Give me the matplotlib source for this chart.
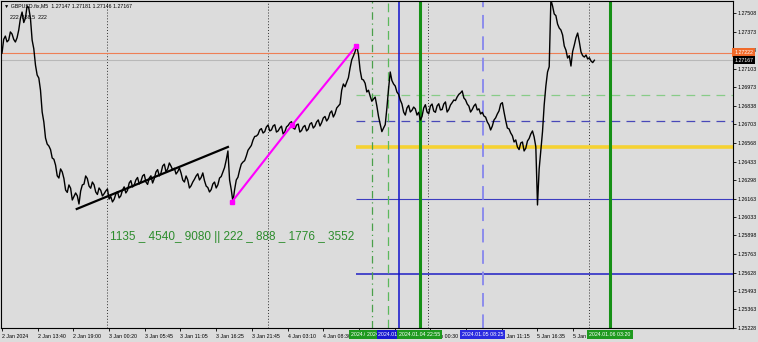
import matplotlib
matplotlib.use("Agg")
import matplotlib.pyplot as plt
import matplotlib.transforms as mtransforms

# ---------------- data ----------------
bar_step = 3  # M5 bars between consecutive close samples
close_prices = [
    1.27219, 1.27318, 1.27342, 1.27300, 1.27313, 1.27372, 1.27357, 1.27318, 1.27299, 1.27330,
    1.27386, 1.27470, 1.27516, 1.27440, 1.27473, 1.27560, 1.27545, 1.27470, 1.27313, 1.27250,
    1.27132, 1.27060, 1.27038, 1.26950, 1.26792, 1.26720, 1.26604, 1.26560, 1.26546, 1.26520,
    1.26459, 1.26450, 1.26408, 1.26330, 1.26314, 1.26380, 1.26358, 1.26310, 1.26227, 1.26210,
    1.26264, 1.26240, 1.26155, 1.26180, 1.26206, 1.26185, 1.26126, 1.26220, 1.26264, 1.26270,
    1.26329, 1.26310, 1.26256, 1.26240, 1.26285, 1.26265, 1.26213, 1.26195, 1.26242, 1.26225,
    1.26184, 1.26200, 1.26220, 1.26235, 1.26162, 1.26180, 1.26141, 1.26160, 1.26198, 1.26215,
    1.26170, 1.26185, 1.26227, 1.26250, 1.26206, 1.26225, 1.26278, 1.26295, 1.26249, 1.26262,
    1.26300, 1.26318, 1.26271, 1.26290, 1.26329, 1.26340, 1.26285, 1.26268, 1.26314, 1.26330,
    1.26278, 1.26310, 1.26358, 1.26375, 1.26329, 1.26350, 1.26401, 1.26415, 1.26358, 1.26380,
    1.26423, 1.26400, 1.26372, 1.26385, 1.26343, 1.26360, 1.26387, 1.26350, 1.26300, 1.26285,
    1.26329, 1.26300, 1.26242, 1.26258, 1.26285, 1.26305, 1.26329, 1.26345, 1.26300, 1.26318,
    1.26351, 1.26295, 1.26256, 1.26245, 1.26213, 1.26230, 1.26271, 1.26285, 1.26242, 1.26265,
    1.26314, 1.26325, 1.26358, 1.26390, 1.26445, 1.26510, 1.26300, 1.26230, 1.26141, 1.26230,
    1.26300, 1.26320, 1.26372, 1.26415, 1.26430, 1.26440, 1.26474, 1.26515, 1.26532, 1.26550,
    1.26589, 1.26615, 1.26618, 1.26630, 1.26662, 1.26672, 1.26640, 1.26650, 1.26684, 1.26698,
    1.26655, 1.26662, 1.26691, 1.26700, 1.26647, 1.26655, 1.26676, 1.26690, 1.26633, 1.26648,
    1.26684, 1.26695, 1.26713, 1.26722, 1.26676, 1.26668, 1.26698, 1.26705, 1.26647, 1.26658,
    1.26684, 1.26695, 1.26655, 1.26668, 1.26705, 1.26715, 1.26676, 1.26690, 1.26720, 1.26735,
    1.26691, 1.26715, 1.26749, 1.26760, 1.26727, 1.26745, 1.26785, 1.26800, 1.26756, 1.26780,
    1.26821, 1.26835, 1.26850, 1.26950, 1.26995, 1.26975, 1.27009, 1.27040, 1.27111, 1.27170,
    1.27198, 1.27230, 1.27270, 1.27210, 1.27096, 1.27030, 1.27024, 1.27000, 1.26937, 1.26950,
    1.26908, 1.26870, 1.26886, 1.26900, 1.26836, 1.26760, 1.26705, 1.26650, 1.26676, 1.26700,
    1.26821, 1.26960, 1.27082, 1.27020, 1.26995, 1.26980, 1.26937, 1.26920, 1.26879, 1.26850,
    1.26792, 1.26770, 1.26821, 1.26840, 1.26792, 1.26805, 1.26828, 1.26815, 1.26770, 1.26790,
    1.26734, 1.26760, 1.26821, 1.26845, 1.26792, 1.26780, 1.26836, 1.26850, 1.26799, 1.26790,
    1.26836, 1.26852, 1.26807, 1.26810, 1.26850, 1.26865, 1.26792, 1.26810, 1.26843, 1.26860,
    1.26879, 1.26875, 1.26901, 1.26920, 1.26930, 1.26945, 1.26894, 1.26880, 1.26850, 1.26835,
    1.26792, 1.26810, 1.26836, 1.26850, 1.26807, 1.26815, 1.26778, 1.26790, 1.26763, 1.26755,
    1.26720, 1.26700, 1.26662, 1.26690, 1.26734, 1.26750, 1.26778, 1.26800, 1.26850, 1.26860,
    1.26792, 1.26730, 1.26676, 1.26670, 1.26640, 1.26620, 1.26575, 1.26590, 1.26539, 1.26520,
    1.26568, 1.26575, 1.26510, 1.26530, 1.26582, 1.26600, 1.26633, 1.26655, 1.26611, 1.26540,
    1.26119, 1.26380, 1.26517, 1.26650, 1.26843, 1.26980, 1.27082, 1.27120, 1.27605, 1.27560,
    1.27502, 1.27490, 1.27429, 1.27400, 1.27386, 1.27350, 1.27270, 1.27240, 1.27183, 1.27200,
    1.27125, 1.27230, 1.27277, 1.27330, 1.27364, 1.27300, 1.27227, 1.27200, 1.27190, 1.27205,
    1.27176, 1.27185, 1.27161, 1.27150, 1.27167,
]

time_tick_bars = [0, 64, 128, 192, 256, 320, 384, 448, 512, 576, 640, 704, 768, 832, 896, 960, 1024]
time_tick_labels = ["2 Jan 2024", "2 Jan 13:40", "2 Jan 19:00", "3 Jan 00:20", "3 Jan 05:45",
                    "3 Jan 11:05", "3 Jan 16:25", "3 Jan 21:45", "4 Jan 03:10", "4 Jan 08:30",
                    "4 Jan 13:50", "4 Jan 19:10", "5 Jan 00:30", "5 Jan 05:50", "5 Jan 11:15",
                    "5 Jan 16:35", "5 Jan 21:55"]

price_ticks = [1.27508, 1.27373, 1.27238, 1.27103, 1.26973, 1.26838, 1.26703, 1.26568, 1.26433,
               1.26298, 1.26163, 1.26033, 1.25898, 1.25763, 1.25628, 1.25493, 1.25363, 1.25228]

day_separator_bars = [188, 476, 764, 1052]

vline_bars = [663, 692, 712, 749, 862, 1090]
vline_labels = ["2024.01.04 15:45", "2024.01.04 18:10", "2024.01.04 19:50",
                "2024.01.04 22:55", "2024.01.05 08:25", "2024.01.06 03:20"]

level_start_bar = 635
level_prices = [1.26915, 1.26727, 1.26539, 1.26162, 1.25619]

orange_level = 1.27222
bid_level = 1.27167

trend_bars = [134, 405]
trend_prices = [1.26090, 1.26539]

fib_bars = [412, 520, 635]
fib_prices = [1.26141, 1.26698, 1.27270]

header_text = "GBPUSD.fix,M5  1.27147 1.27181 1.27146 1.27167"
indicator_text = "222  888.5  222"
green_caption = "1135 _ 4540_ 9080 || 222 _ 888 _ 1776 _ 3552"

# ---------------- figure ----------------
W, H = 758, 342
BG = "#dcdcdc"
FONT = ["Liberation Sans", "DejaVu Sans"]
plt.rcParams["font.family"] = FONT
SMALL = 3.8

fig = plt.figure(figsize=(W / 100, H / 100), dpi=100)
fig.patch.set_facecolor(BG)
ax = fig.add_axes([1 / W, 1 - 328 / H, 732 / W, 327 / H])
ax.set_facecolor(BG)

xmin, xmax = -1.8, 1310.5
ax.set_xlim(xmin, xmax)
ax.set_ylim(1.25228, 1.27596)

for s in ax.spines.values():
    s.set_color("#000000")
    s.set_linewidth(0.8)

# day separators
for b in day_separator_bars:
    ax.axvline(b, color="#303030", lw=0.7, linestyle=(0, (1, 2)), zorder=1)

# horizontal levels
ax.axhline(orange_level, color="#ee7f55", lw=0.8, zorder=1)
ax.axhline(bid_level, color="#b8b8b8", lw=0.8, zorder=1)
level_styles = [
    dict(color="#88cc88", lw=0.9, linestyle=(0, (7, 5))),
    dict(color="#4848b8", lw=0.9, linestyle=(0, (7, 5))),
    dict(color="#f5d232", lw=2.6, linestyle="-"),
    dict(color="#3c3cc0", lw=0.8, linestyle="-"),
    dict(color="#3c3cc8", lw=1.3, linestyle="-"),
]
for p, st in zip(level_prices, level_styles):
    ax.hlines(p, level_start_bar, xmax, zorder=2, **st)

# vertical lines
vline_styles = [
    dict(color="#4aa04a", lw=0.9, linestyle=(0, (6, 3, 1, 3))),
    dict(color="#5cb85c", lw=0.9, linestyle=(0, (7, 4))),
    dict(color="#1010cc", lw=1.1, linestyle="-"),
    dict(color="#159015", lw=2.2, linestyle="-"),
    dict(color="#8c8cec", lw=1.4, linestyle=(0, (7, 4))),
    dict(color="#159015", lw=2.2, linestyle="-"),
]
for b, st in zip(vline_bars, vline_styles):
    ax.axvline(b, zorder=2, **st)

# price line
bars = [i * bar_step for i in range(len(close_prices))]
ax.plot(bars, close_prices, color="black", lw=1.0, zorder=4)

# trend line and magenta line
ax.plot(trend_bars, trend_prices, color="black", lw=1.6, zorder=5)
ax.plot(fib_bars, fib_prices, color="#ff00ff", lw=1.5, zorder=5,
        marker="s", ms=3, mfc="#ff00ff", mec="#ff00ff")

# green caption
ax.text(193, 1.25887, green_caption, color="#2c8c2c", fontsize=8.5,
        ha="left", va="center", zorder=6)

# header texts
ax.text(0.004, 0.992, "\u25bc " + header_text, transform=ax.transAxes, fontsize=SMALL,
        ha="left", va="top", color="#000000", zorder=7)
ax.text(0.012, 0.957, indicator_text, transform=ax.transAxes, fontsize=SMALL,
        ha="left", va="top", color="#000000", zorder=7)

# axes ticks
ax.yaxis.tick_right()
ax.set_yticks(price_ticks)
ax.set_yticklabels([f"{p:.5f}" for p in price_ticks])
ax.tick_params(axis="y", direction="out", length=2.0, width=0.6, pad=1.0,
               labelsize=SMALL, colors="#000000")
ax.set_xticks(time_tick_bars)
ax.set_xticklabels(time_tick_labels)
ax.tick_params(axis="x", direction="out", length=2.5, width=0.6, pad=1.5,
               labelsize=SMALL, colors="#000000")
for lbl in ax.get_xticklabels():
    lbl.set_ha("left")

# right axis price boxes
ty = mtransforms.blended_transform_factory(ax.transAxes, ax.transData)
ax.text(1.002, orange_level, f"{orange_level:.5f}", transform=ty, fontsize=SMALL, color="white",
        ha="left", va="center", zorder=8, clip_on=False,
        bbox=dict(boxstyle="square,pad=0.4", fc="#f06a2a", ec="none"))
ax.text(1.002, bid_level, f"{bid_level:.5f}", transform=ty, fontsize=SMALL, color="white",
        ha="left", va="center", zorder=9, clip_on=False,
        bbox=dict(boxstyle="square,pad=0.3", fc="#000000", ec="none"))

# bottom time boxes for vertical lines
tx = mtransforms.blended_transform_factory(ax.transData, ax.transAxes)
box_colors = ["#1f9a1f", "#1f9a1f", "#1a1ad0", "#1f9a1f", "#2a2ae0", "#1f9a1f"]
for b, lab, c in zip(vline_bars, vline_labels, box_colors):
    ax.text(b, -0.012, lab, transform=tx, fontsize=SMALL, color="white", ha="center", va="top",
            zorder=8, clip_on=False, bbox=dict(boxstyle="square,pad=0.35", fc=c, ec="none"))

fig.savefig("out.png", dpi=100, facecolor=BG)
